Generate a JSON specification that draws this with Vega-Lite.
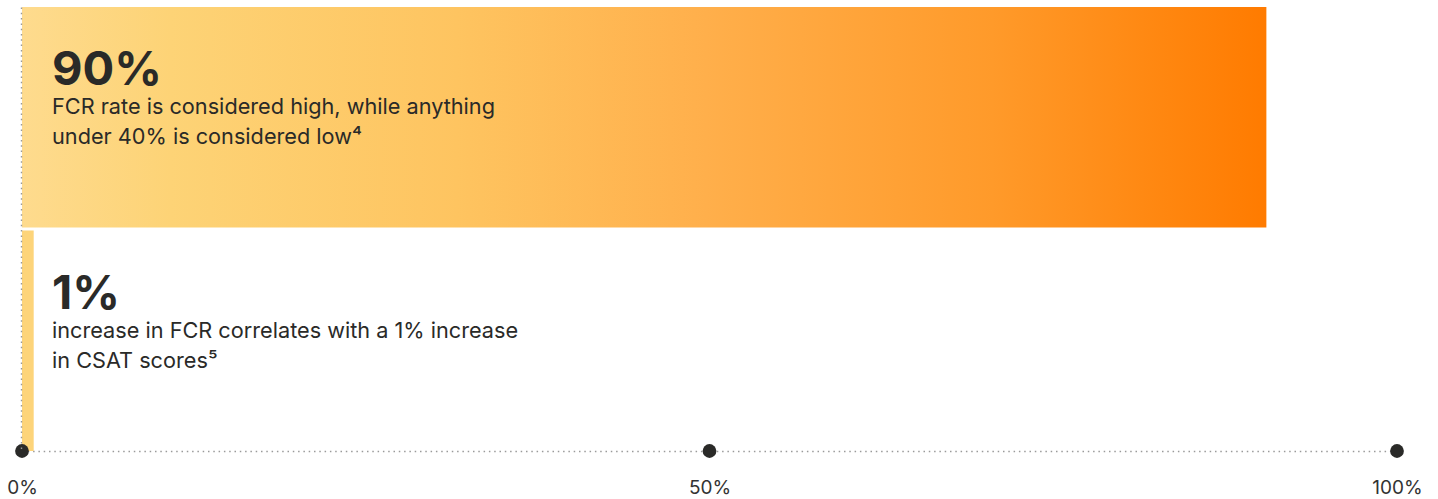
{
  "$schema": "https://vega.github.io/schema/vega-lite/v6.json",
  "width": 1375,
  "height": 444,
  "autosize": {"type": "none"},
  "padding": {"left": 22, "right": 41, "top": 7, "bottom": 48},
  "background": "white",
  "config": {"view": {"stroke": null}, "font": "Inter"},
  "data": {
    "values": [
      {"metric": "FCR", "value": 90.5, "big": "90%", "desc": "FCR rate is considered high, while anything\nunder 40% is considered low⁴"},
      {"metric": "CSAT", "value": 0.85, "big": "1%", "desc": "increase in FCR correlates with a 1% increase\nin CSAT scores⁵"}
    ]
  },
  "encoding": {
    "y": {
      "field": "metric",
      "type": "nominal",
      "sort": ["FCR", "CSAT"],
      "scale": {"paddingInner": 0.0134, "paddingOuter": 0},
      "axis": {
        "title": null,
        "labels": false,
        "ticks": false,
        "domainColor": "#9a9a9a",
        "domainDash": [1.5, 3.8],
        "domainWidth": 1.4,
        "offset": 1,
        "zindex": 1
      }
    }
  },
  "layer": [
    {
      "transform": [{"filter": "datum.metric === 'FCR'"}],
      "mark": {
        "type": "bar",
        "color": {
          "gradient": "linear",
          "x1": 0, "y1": 0, "x2": 1, "y2": 0,
          "stops": [
            {"offset": 0, "color": "#FEDB8E"},
            {"offset": 0.12, "color": "#FDD376"},
            {"offset": 0.35, "color": "#FEC460"},
            {"offset": 0.55, "color": "#FFAF4B"},
            {"offset": 0.78, "color": "#FF9A2A"},
            {"offset": 1, "color": "#FF7B00"}
          ]
        }
      },
      "encoding": {
        "x": {
          "field": "value",
          "type": "quantitative",
          "scale": {"domain": [0, 100], "nice": false},
          "axis": {
            "title": null,
            "values": [0, 50, 100],
            "labelExpr": "datum.value + '%'",
            "labelFlush": false,
            "grid": false,
            "ticks": false,
            "labelFontSize": 19,
            "labelColor": "#333333",
            "labelPadding": 27,
            "domainColor": "#9a9a9a",
            "domainDash": [1.5, 3.8],
            "domainWidth": 1.4
          }
        }
      }
    },
    {
      "transform": [{"filter": "datum.metric === 'CSAT'"}],
      "mark": {"type": "bar", "color": "#FDD47A"},
      "encoding": {
        "x": {"field": "value", "type": "quantitative"}
      }
    },
    {
      "mark": {"type": "text", "align": "left", "baseline": "alphabetic", "dx": 30, "dy": -32, "fontSize": 47, "fontWeight": "bold", "color": "#2a2a28"},
      "encoding": {
        "x": {"datum": 0, "type": "quantitative"},
        "text": {"field": "big"}
      }
    },
    {
      "mark": {"type": "text", "align": "left", "baseline": "alphabetic", "dx": 30, "dy": -3, "fontSize": 21.7, "lineHeight": 30, "lineBreak": "\n", "color": "#2a2a28"},
      "encoding": {
        "x": {"datum": 0, "type": "quantitative"},
        "text": {"field": "desc"}
      }
    },
    {
      "data": {"values": [{"t": 0}, {"t": 50}, {"t": 100}]},
      "mark": {"type": "point", "filled": true, "size": 190, "color": "#2a2a28", "opacity": 1, "clip": false},
      "encoding": {
        "x": {"field": "t", "type": "quantitative"},
        "y": {"value": "height"}
      }
    }
  ]
}
